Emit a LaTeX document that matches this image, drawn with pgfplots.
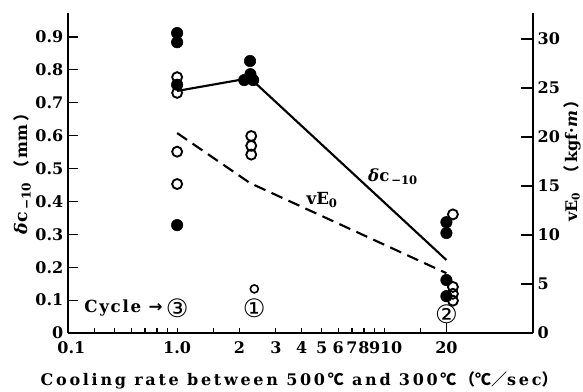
\documentclass[border=0pt]{standalone}
\usepackage{fontspec}
\setmainfont{DejaVu Serif}
\newfontfamily\cjk{Noto Sans CJK SC}
\newfontfamily\dejavu{DejaVu Sans}
\newfontfamily\spaced[LetterSpace=17]{DejaVu Serif}
\newfontfamily\spacedb[LetterSpace=10]{DejaVu Serif}
\usepackage{pgfplots}
\pgfplotsset{compat=1.18}
\begin{document}
\begin{tikzpicture}
\path[use as bounding box] (-51pt,-44pt) rectangle (386.25pt,249.75pt);
\begin{axis}[
  scale only axis, width=348.75pt, height=240pt,
  xmode=log, xmin=0.297, xmax=52.4,
  ymin=0, ymax=0.973,
  axis x line*=bottom, axis y line*=left,
  axis line style={-, line width=1.1pt},
  tick align=inside,
  xtick={0.297,1,2,3,4,5,6,7,8,9,10,20},
  xticklabels={\hspace{5pt}0.1,1.0,2,3,4,5,6,7,8,9,\makebox[0pt][l]{\kern-3pt 10},20},
  minor xtick={0.4,0.5,0.6,0.7,0.8,0.9,1.5,15},
  extra x ticks={1,10},
  extra x tick labels={},
  extra x tick style={major tick length=7pt},
  xtick style={/pgfplots/major tick length=3.5pt, /pgfplots/minor tick length=3.5pt, line width=0.9pt, black},
  ytick={0,0.1,0.2,0.3,0.4,0.5,0.6,0.7,0.8,0.9},
  yticklabels={0,0.1,0.2,0.3,0.4,0.5,0.6,0.7,0.8,0.9},
  ytick style={/pgfplots/major tick length=7.5pt, line width=0.9pt, black},
  /pgf/number format/assume math mode=true,
  ticklabel style={font=\fontsize{12}{14}\selectfont\bfseries},
  xticklabel style={yshift=-3pt},
  xlabel={\spaced\bfseries Cooling rate between 500\,{\cjk ℃} and 300\,{\cjk ℃}\,{\cjk （℃／}sec{\cjk ）}},
  xlabel style={at={(axis description cs:0.497,-0.147)}, anchor=center, font=\fontsize{12}{14}\selectfont},
  ylabel={\bfseries{\fontsize{13}{14}\selectfont\textit{δ}c\textsubscript{\,−10}}\ {\cjk （}\,mm\,{\cjk ）}},
  ylabel style={at={(axis description cs:-0.099,0.51)}, anchor=center, font=\fontsize{12}{14}\selectfont},
  clip=false,
]
\addplot[only marks, mark=*, mark size=4.3pt, black] coordinates {
  (1,0.912) (1,0.884) (1,0.755) (1,0.328)
  (2.25,0.827) (2.26,0.787) (2.11,0.769) (2.33,0.769)
  (20,0.337) (20,0.304) (20,0.161) (20,0.112)
};
\addplot[black, line width=1.6pt, mark=none] coordinates {
  (1,0.736) (2.25,0.775) (20,0.222)
};
\draw[line width=0.9pt] (axis cs:20,0) -- (axis cs:20,0.04);
\node[font=\fontsize{12.5}{15}\selectfont\bfseries] at (axis cs:11.05,0.474) {\textit{δ}c\textsubscript{\,−10}};
\node[font=\fontsize{12.5}{15}\selectfont\bfseries] at (axis cs:5.02,0.404) {vE\textsubscript{0}};
\node[font=\fontsize{19}{21}\selectfont\dejavu, inner sep=0pt] (c3) at (axis cs:1,0.076) {③};
\node[font=\fontsize{12.5}{15}\selectfont, anchor=east, inner sep=2pt] at (c3.west) {\spacedb\bfseries Cycle {\dejavu\bfseries →}};
\node[font=\fontsize{19}{21}\selectfont\dejavu, inner sep=0pt] at (axis cs:2.36,0.076) {①};
\node[font=\fontsize{19}{21}\selectfont\dejavu, inner sep=0pt, fill=white] at (axis cs:20,0.058) {②};
\end{axis}
\begin{axis}[
  scale only axis, width=348.75pt, height=240pt,
  xmode=log, xmin=0.297, xmax=52.4,
  ymin=0, ymax=32.65,
  axis x line=none, axis y line*=right,
  axis line style={-, line width=1.1pt},
  tick align=inside,
  ytick={0,5,10,15,20,25,30},
  ytick style={/pgfplots/major tick length=9pt, line width=0.9pt, black},
  /pgf/number format/assume math mode=true,
  ticklabel style={font=\fontsize{12}{14}\selectfont\bfseries},
  ylabel={\bfseries vE\textsubscript{0}\ \ {\cjk （}\,kgf·\textit{m}\,{\cjk ）}},
  ylabel style={at={(axis description cs:1.084,0.55)}, anchor=center, font=\fontsize{12}{14}\selectfont},
  clip=false,
]
\addplot[black, line width=1.6pt, dash pattern=on 9pt off 5pt, mark=none] coordinates {
  (1,20.4) (2.25,15.3) (20,6.1)
};
\addplot[only marks, mark=o, mark size=3.75pt, line width=1.4pt, black, fill=white] coordinates {
  (1,26.1) (1,24.5) (1,18.5) (1,15.2)
  (2.28,20.1) (2.28,19.1) (2.28,18.2)
  (21.5,12.1) (21.5,4.7) (21.5,4.0) (21.5,3.3)
};
\addplot[only marks, mark=o, mark size=3pt, line width=1.2pt, black, fill=white] coordinates {
  (2.36,4.5)
};
\end{axis}
\end{tikzpicture}
\end{document}
